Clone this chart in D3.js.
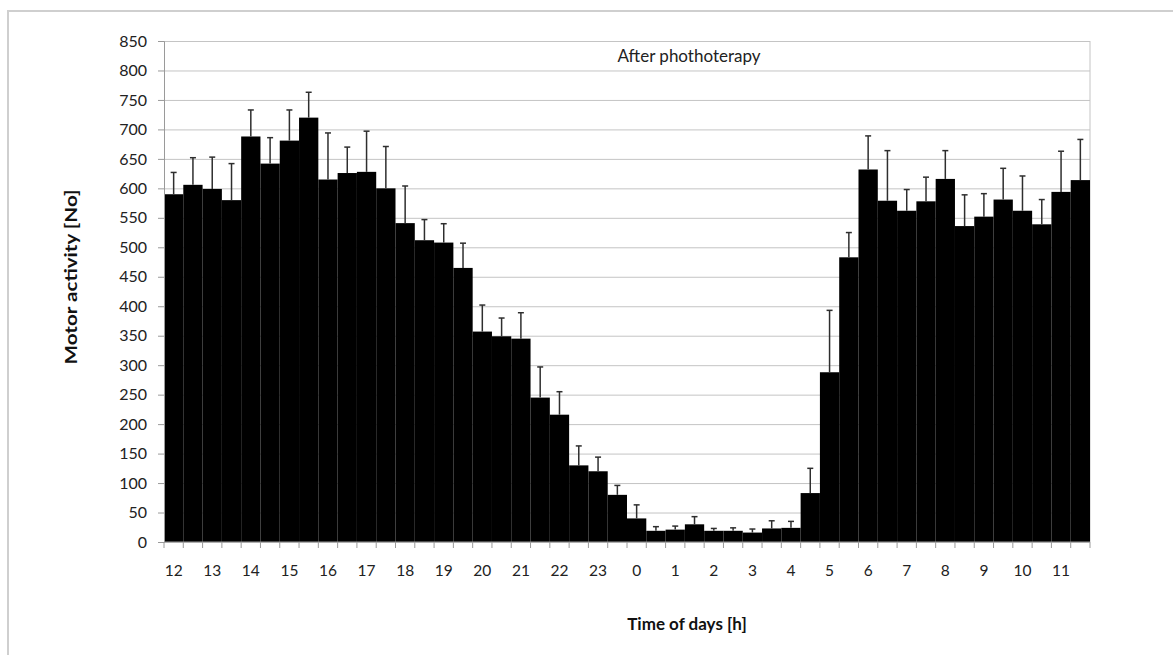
<!DOCTYPE html>
<html>
<head>
<meta charset="utf-8">
<script src="https://cdn.jsdelivr.net/npm/d3@7"></script>
<style>
  body { margin: 0; background: #fff; }
  svg { display: block; font-family: Lato, "Open Sans", sans-serif; }
  .tick text { fill: #222; }
  .grid line { stroke: #c4c4c4; }
  .grid path { display: none; }
</style>
</head>
<body>
<svg width="1173" height="655"></svg>
<script>
// hour labels shown under every other bar (half-hour slots)
const hours = [12, 13, 14, 15, 16, 17, 18, 19, 20, 21, 22, 23, 0, 1, 2, 3, 4, 5, 6, 7, 8, 9, 10, 11];

// mean motor activity per half-hour slot, starting at 12:00
const activity = [
  590, 606, 599, 580, 688, 642, 681, 720, 615, 626, 628, 600,
  541, 512, 508, 465, 357, 349, 345, 245, 216, 130, 120, 80,
  40, 19, 21, 30, 19, 19, 16, 23, 24, 83, 288, 483,
  632, 579, 562, 578, 616, 536, 552, 581, 562, 539, 594, 614
];

// standard deviation (upper error bar only)
const deviation = [
  37, 46, 54, 62, 45, 44, 52, 43, 79, 44, 69, 71,
  63, 35, 32, 42, 45, 31, 44, 52, 39, 33, 24, 16,
  23, 7, 6, 13, 4, 5, 6, 13, 11, 42, 105, 42,
  57, 85, 36, 41, 48, 53, 39, 53, 59, 42, 69, 69
];

const yTicks = d3.range(0, 851, 50);

const slots = [];
hours.forEach(h => { slots.push(h + ':00'); slots.push(h + ':30'); });
const data = slots.map((s, i) => ({ slot: s, value: activity[i], sd: deviation[i] }));

const svg = d3.select('svg');

const plotLeft = 164, plotRight = 1090, plotTop = 41, plotBottom = 542;

// outer chart frame (runs off the right and bottom edge)
svg.append('rect')
  .attr('x', 8).attr('y', 11)
  .attr('width', 1200).attr('height', 700)
  .attr('fill', 'none')
  .attr('stroke', '#cfcfcf')
  .attr('stroke-width', 2);

const x = d3.scaleBand()
  .domain(slots)
  .range([plotLeft, plotRight])
  .padding(0);

const y = d3.scaleLinear()
  .domain([0, 850])
  .range([plotBottom, plotTop]);

// horizontal grid lines
svg.append('g')
  .attr('class', 'grid')
  .attr('transform', `translate(${plotLeft}, 0)`)
  .call(d3.axisLeft(y).tickValues(yTicks).tickSize(-(plotRight - plotLeft)).tickFormat(''));

// right border of the plot area
svg.append('line')
  .attr('x1', plotRight).attr('x2', plotRight)
  .attr('y1', plotTop).attr('y2', plotBottom)
  .attr('stroke', '#c4c4c4');

// bars
svg.append('g')
  .selectAll('rect')
  .data(data)
  .join('rect')
  .attr('x', d => x(d.slot))
  .attr('y', d => y(d.value))
  .attr('width', x.bandwidth())
  .attr('height', d => y(0) - y(d.value))
  .attr('fill', '#000');

// error bars
const err = svg.append('g')
  .attr('stroke', '#2e2e2e')
  .attr('stroke-width', 1.5);

err.selectAll('line.stem')
  .data(data)
  .join('line')
  .attr('class', 'stem')
  .attr('x1', d => x(d.slot) + x.bandwidth() / 2)
  .attr('x2', d => x(d.slot) + x.bandwidth() / 2)
  .attr('y1', d => y(d.value))
  .attr('y2', d => y(d.value + d.sd));

err.selectAll('line.cap')
  .data(data)
  .join('line')
  .attr('class', 'cap')
  .attr('x1', d => x(d.slot) + x.bandwidth() / 2 - 3)
  .attr('x2', d => x(d.slot) + x.bandwidth() / 2 + 3)
  .attr('y1', d => y(d.value + d.sd))
  .attr('y2', d => y(d.value + d.sd));

// y axis
const yAxis = svg.append('g')
  .attr('transform', `translate(${plotLeft}, 0)`)
  .call(d3.axisLeft(y).tickValues(yTicks).tickSize(6).tickPadding(11))
  .attr('font-family', 'Lato, "Open Sans", sans-serif')
  .attr('font-size', 16);
yAxis.select('.domain').attr('stroke', '#9a9a9a');
yAxis.selectAll('.tick line').attr('stroke', '#9a9a9a');

// x axis line and boundary ticks
svg.append('line')
  .attr('x1', plotLeft).attr('x2', plotRight)
  .attr('y1', plotBottom).attr('y2', plotBottom)
  .attr('stroke', '#9a9a9a');

svg.append('g')
  .selectAll('line')
  .data(slots.map(s => x(s)).concat([plotRight]))
  .join('line')
  .attr('x1', d => d).attr('x2', d => d)
  .attr('y1', plotBottom).attr('y2', plotBottom + 6)
  .attr('stroke', '#9a9a9a');

// hour labels under the :00 slots
const xAxis = svg.append('g')
  .attr('transform', `translate(0, ${plotBottom})`)
  .call(d3.axisBottom(x)
    .tickValues(slots.filter((s, i) => i % 2 === 0))
    .tickFormat(s => s.split(':')[0])
    .tickSize(0)
    .tickPadding(23))
  .attr('font-family', 'Lato, "Open Sans", sans-serif')
  .attr('font-size', 15.5);
xAxis.select('.domain').remove();

// titles
svg.append('text')
  .attr('x', 689)
  .attr('y', 62)
  .attr('text-anchor', 'middle')
  .attr('font-size', 17)
  .attr('fill', '#222')
  .text('After phothoterapy');

svg.append('text')
  .attr('x', 687)
  .attr('y', 630)
  .attr('text-anchor', 'middle')
  .attr('font-size', 17)
  .attr('font-weight', 'bold')
  .attr('fill', '#111')
  .text('Time of days [h]');

svg.append('text')
  .attr('transform', 'translate(77, 277) rotate(-90)')
  .attr('text-anchor', 'middle')
  .attr('font-size', 17)
  .attr('font-weight', 'bold')
  .attr('fill', '#111')
  .attr('textLength', 175)
  .attr('lengthAdjust', 'spacingAndGlyphs')
  .text('Motor activity [No]');
</script>
</body>
</html>
